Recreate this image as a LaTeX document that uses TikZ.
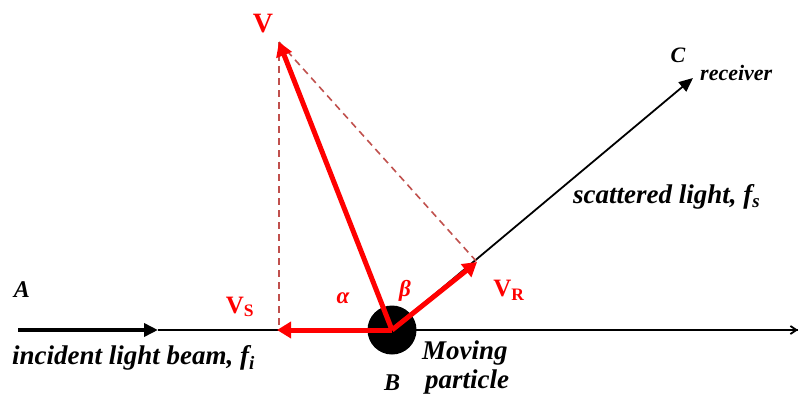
\documentclass[tikz,border=0pt]{standalone}
\usepackage{fontspec}
\setmainfont{Liberation Serif}
\usetikzlibrary{arrows.meta}
\definecolor{vred}{RGB}{255,0,0}
\definecolor{dashc}{RGB}{192,80,77}
\begin{document}
\begin{tikzpicture}[x=1pt,y=-1pt,
  lbl/.style={font=\fontsize{27}{29}\selectfont\bfseries\itshape, inner sep=0pt},
  smlbl/.style={font=\fontsize{22}{24}\selectfont\bfseries\itshape, inner sep=0pt},
  vlbl/.style={font=\fontsize{25}{27}\selectfont\bfseries, text=vred, inner sep=0pt},
  glbl/.style={font=\fontsize{23}{25}\selectfont\bfseries\itshape, text=vred, inner sep=0pt},
  vec/.style={draw=vred, line width=5pt, -{Triangle[length=14pt,width=16pt]}},
  guide/.style={draw=dashc, line width=1.6pt, dash pattern=on 7pt off 5pt},
  beam/.style={draw=black, line width=1.8pt}]
\useasboundingbox (0,0) rectangle (800,396);
% points
\coordinate (Astart) at (18,330);
\coordinate (Amid) at (158,330);
\coordinate (Bc) at (392,330);
\coordinate (Eend) at (798,330);
\coordinate (Vtip) at (279,42);
\coordinate (Stip) at (277,330);
\coordinate (Rtip) at (477,262);
\coordinate (Ctip) at (693,78);
\coordinate (Sfoot) at (279,330);
% beam lines
\draw[beam] (Amid) -- (Eend);
\draw[beam, -{Straight Barb[length=6pt,width=8pt]}] (Bc) -- (Eend);
\draw[draw=black, line width=3.5pt, -{Triangle[length=14pt,width=13pt]}] (Astart) -- (Amid);
\draw[beam, -{Triangle[length=14pt,width=12pt]}] (Bc) -- (Ctip);
% dashed guides
\draw[guide] (Vtip) -- (Sfoot);
\draw[guide] (Vtip) -- (Rtip);
% particle
\node[circle, fill=black, minimum size=49pt, inner sep=0pt] (B) at (Bc) {};
% vectors
\draw[vec] (Bc) -- (Vtip);
\draw[vec] (Bc) -- (Stip);
\draw[vec] (Bc) -- (Rtip);
% labels
\node[vlbl, font=\fontsize{28}{30}\selectfont\bfseries] (Vl) at (263,24) {V};
\node[vlbl] (VSl) at (240,307) {V\textsubscript{S}};
\node[vlbl] (VRl) at (509,290) {V\textsubscript{R}};
\node[glbl] (al) at (343,298) {α};
\node[glbl] (bl) at (405,291) {β};
\node[lbl, font=\fontsize{24}{26}\selectfont\bfseries\itshape] (Al) at (22,290) {A};
\node[lbl, anchor=west] (inc) at (12,358) {incident light beam, \textit{f}\textsubscript{\textit{i}}};
\node[lbl, font=\fontsize{24}{26}\selectfont\bfseries\itshape] (Bl) at (392,383) {B};
\node[lbl, anchor=west] (mp) at (422,353) {Moving};
\node[lbl, anchor=west] (mp2) at (425,382) {particle};
\node[smlbl] (Cl) at (678,55) {C};
\node[smlbl, anchor=west] (rec) at (700,73) {receiver};
\node[lbl, anchor=west] (sc) at (573,197) {scattered light, \textit{f}\textsubscript{\textit{s}}};
\end{tikzpicture}
\end{document}
